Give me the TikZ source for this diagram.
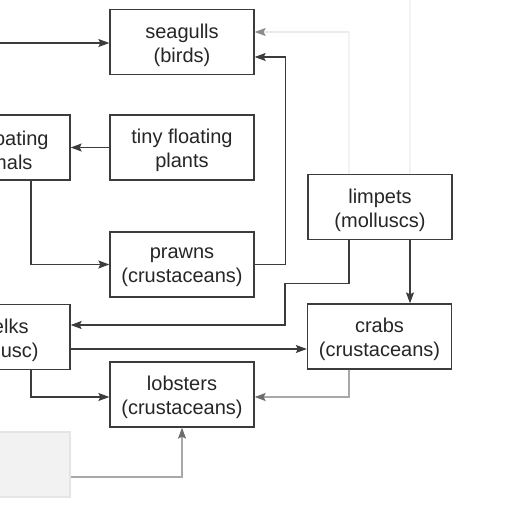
\documentclass[tikz,border=0pt]{standalone}
\usepackage{fontspec}
\setmainfont{Liberation Sans}
\usetikzlibrary{arrows.meta}
\definecolor{ink}{HTML}{3C3C3C}
\definecolor{ghost}{HTML}{A8A8A8}
\definecolor{faint}{HTML}{F3F3F3}
\tikzset{
  boxtext/.style={align=center, font=\fontsize{20}{24}\selectfont, text=black!85, inner sep=0pt, yshift=-3pt},
  box/.style={draw=ink, line width=1.3pt, fill=white, minimum width=144pt, minimum height=65pt,
    inner sep=0pt, label={[boxtext]center:#1}},
  ghostbox/.style={draw=black!10, fill=black!5, line width=1.3pt, minimum width=144pt, minimum height=65pt, inner sep=0pt},
  arr/.style={draw=ink, line width=1.2pt, -{Stealth[length=11pt,width=8pt,inset=2pt]}},
  ghostarr/.style={draw=ghost, line width=1.2pt, -{Stealth[length=11pt,width=8pt,inset=2pt,color=ink!75]}},
  fadearr/.style={draw=black!8, line width=1.2pt, -{Stealth[length=11pt,width=8pt,inset=2pt,color=black!45]}},
  faintline/.style={draw=faint, line width=1.2pt}
}
\begin{document}
\begin{tikzpicture}[x=1pt,y=-1pt]
\useasboundingbox (0,0) rectangle (512,512);
\clip (0,0) rectangle (512,512);
% nodes
\node[box={seagulls\\(birds)}] (seagulls) at (182,42) {};
\node[box={tiny floating\\plants}] (plants) at (182,147.5) {};
\node[box={tiny floating\\animals}] (animals) at (-2,147.5) {};
\node[box={prawns\\(crustaceans)}] (prawns) at (182,264.5) {};
\node[box={limpets\\(molluscs)}] (limpets) at (380,207) {};
\node[box={whelks\\(mollusc)}] (whelks) at (-2,337) {};
\node[box={crabs\\(crustaceans)}] (crabs) at (379.5,336.5) {};
\node[box={lobsters\\(crustaceans)}] (lobsters) at (182,394.5) {};
\node[ghostbox] (eggs) at (-2,464.5) {};
\coordinate (leftin) at (0,43);
% faint traces
\draw[faintline] ([xshift=-31pt]limpets.north) -- (349,32);
\draw[faintline] ([xshift=30pt]limpets.north) -- (410,0);
\draw[fadearr] (349,32) -- ([yshift=10pt]seagulls.east);
% connectors
\draw[arr] (leftin) -- (leftin -| seagulls.west);
\draw[arr] (plants.west) -- (animals.east);
\draw[arr] ([xshift=33pt]animals.south) |- (prawns.west);
\draw[arr] (prawns.east) -- ++(31,0) |- ([yshift=-15pt]seagulls.east);
\draw[arr] ([xshift=-31pt]limpets.south) -- ++(0,43) -| (285,325) -- (285,325 -| whelks.east);
\draw[arr] ([xshift=30pt]limpets.south) -- ([xshift=30.5pt]crabs.north);
\draw[arr] ([yshift=-12pt]whelks.east) -- ([yshift=-12.5pt]crabs.west);
\draw[arr] ([xshift=33pt]whelks.south) |- ([yshift=-2.5pt]lobsters.west);
\draw[ghostarr] ([xshift=-30.5pt]crabs.south) |- ([yshift=-2.5pt]lobsters.east);
\draw[ghostarr] ([yshift=-12.5pt]eggs.east) -| (lobsters.south);
\end{tikzpicture}
\end{document}
